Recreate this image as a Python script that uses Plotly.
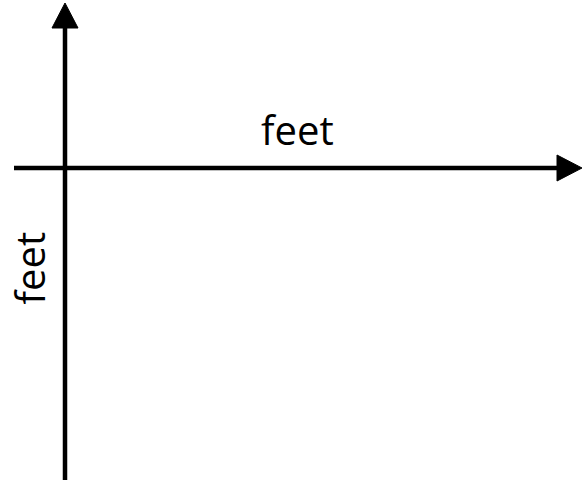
import plotly.graph_objects as go

W, H = 582, 483

# Axis arrows (pixel coordinates in the diagram space)
x_axis_line_x = [14, 560]
x_axis_line_y = [168, 168]
x_head_x = [582, 557, 557]
x_head_y = [168, 155, 181]

y_axis_line_x = [65, 65]
y_axis_line_y = [480, 26]
y_head_x = [65, 52, 78]
y_head_y = [3, 28, 28]

labels = ["feet", "feet"]
label_x = [297, 0]
label_y = [129, 268]
label_angle = [0, -90]
label_xanchor = ["center", "left"]

fig = go.Figure()

shapes = [
    dict(type="line", xref="x", yref="y",
         x0=x_axis_line_x[0], x1=x_axis_line_x[1],
         y0=x_axis_line_y[0], y1=x_axis_line_y[1],
         line=dict(color="black", width=4.5)),
    dict(type="line", xref="x", yref="y",
         x0=y_axis_line_x[0], x1=y_axis_line_x[1],
         y0=y_axis_line_y[0], y1=y_axis_line_y[1],
         line=dict(color="black", width=4.5)),
    dict(type="path", xref="x", yref="y",
         path="M {} {} L {} {} L {} {} Z".format(x_head_x[0], x_head_y[0], x_head_x[1], x_head_y[1], x_head_x[2], x_head_y[2]),
         fillcolor="black", line=dict(color="black", width=1)),
    dict(type="path", xref="x", yref="y",
         path="M {} {} L {} {} L {} {} Z".format(y_head_x[0], y_head_y[0], y_head_x[1], y_head_y[1], y_head_x[2], y_head_y[2]),
         fillcolor="black", line=dict(color="black", width=1)),
]

annotations = [
    dict(x=lx, y=ly, xref="x", yref="y", text=t, showarrow=False,
         textangle=a, font=dict(family="Open Sans", size=40, color="black"),
         xanchor=xa, yanchor="middle", borderpad=0)
    for t, lx, ly, a, xa in zip(labels, label_x, label_y, label_angle, label_xanchor)
]

fig.update_layout(
    width=W, height=H,
    margin=dict(l=0, r=0, t=0, b=0),
    paper_bgcolor="white", plot_bgcolor="white",
    xaxis=dict(range=[0, W], visible=False, fixedrange=True),
    yaxis=dict(range=[H, 0], visible=False, fixedrange=True),
    shapes=shapes, annotations=annotations, showlegend=False,
)

fig.write_html(
    "out.html",
    config={"displayModeBar": False},
    post_script="document.body.style.margin='0';document.body.style.overflow='hidden';",
)
